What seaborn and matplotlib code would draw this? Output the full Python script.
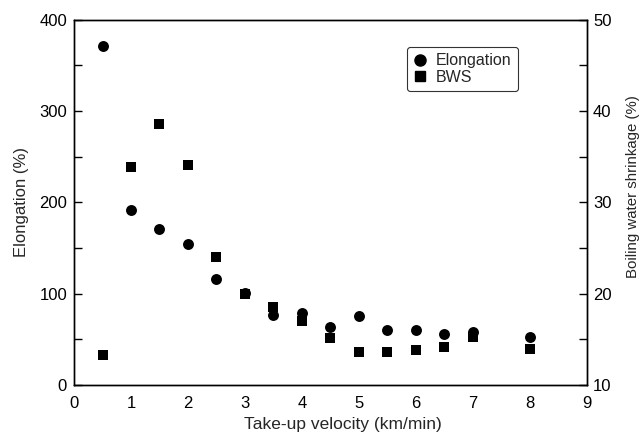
import matplotlib
matplotlib.use("Agg")
import matplotlib.pyplot as plt
import seaborn as sns
import pandas as pd
from matplotlib.ticker import MultipleLocator
from matplotlib.lines import Line2D

velocity = [0.5, 1.0, 1.5, 2.0, 2.5, 3.0, 3.5, 4.0, 4.5, 5.0, 5.5, 6.0, 6.5, 7.0, 8.0]
elongation = [371, 192, 171, 154, 116, 101, 77, 79, 64, 76, 60, 60, 55.5, 58, 53]
bws = [13.3, 33.9, 38.6, 34.1, 24.0, 20.0, 18.5, 17.0, 15.1, 13.6, 13.6, 13.8, 14.2, 15.3, 13.9]

df = pd.DataFrame({"v": velocity, "elong": elongation, "bws": bws})

sns.set_style("white")
plt.rcParams["font.family"] = ["Liberation Sans", "DejaVu Sans"]

fig = plt.figure(figsize=(6.42, 4.34), dpi=100)
ax = fig.add_axes([0.1153, 0.1129, 0.7987, 0.8421])
ax2 = ax.twinx()

sns.scatterplot(data=df, x="v", y="elong", ax=ax, marker="o", s=62, color="black",
                edgecolor="black", linewidth=0, legend=False)
sns.scatterplot(data=df, x="v", y="bws", ax=ax2, marker="s", s=52, color="black",
                edgecolor="black", linewidth=0, legend=False)

ax.set_xlim(0, 9)
ax.set_ylim(0, 400)
ax2.set_ylim(10, 50)
ax.xaxis.set_major_locator(MultipleLocator(1))
ax.yaxis.set_major_locator(MultipleLocator(100))
ax.yaxis.set_minor_locator(MultipleLocator(50))
ax2.yaxis.set_major_locator(MultipleLocator(10))
ax2.yaxis.set_minor_locator(MultipleLocator(5))

for a in (ax, ax2):
    for sp in a.spines.values():
        sp.set_visible(True)
        sp.set_color("black")
        sp.set_linewidth(1.0)
    a.tick_params(which="both", direction="in", colors="black", labelsize=12, width=1)
    a.tick_params(which="major", length=6)
    a.tick_params(which="minor", length=6)

ax.tick_params(axis="x", which="major", pad=8)
ax.tick_params(axis="y", which="major", pad=5)
ax2.tick_params(axis="y", which="major", pad=4.5)

ax.set_xlabel("Take-up velocity (km/min)", fontsize=12.5)
ax.xaxis.set_label_coords(0.525, -0.088)
ax.set_ylabel("Elongation (%)", fontsize=12)
ax.yaxis.set_label_coords(-0.088, 0.5)
ax2.set_ylabel("Boiling water shrinkage (%)", fontsize=10.8)
ax2.yaxis.set_label_coords(1.077, 0.544)

handles = [
    Line2D([], [], marker="o", color="black", linestyle="none", markersize=8),
    Line2D([], [], marker="s", color="black", linestyle="none", markersize=7.5),
]
leg = ax.legend(handles, ["Elongation", "BWS"], loc="upper left",
                bbox_to_anchor=(0.6495, 0.925), fontsize=11.5, frameon=True,
                fancybox=True, edgecolor="black", handletextpad=0.6,
                borderpad=0.4, labelspacing=0.1, handlelength=0.8,
                borderaxespad=0)
leg.get_frame().set_linewidth(0.8)

fig.savefig("out.png", dpi=100)
